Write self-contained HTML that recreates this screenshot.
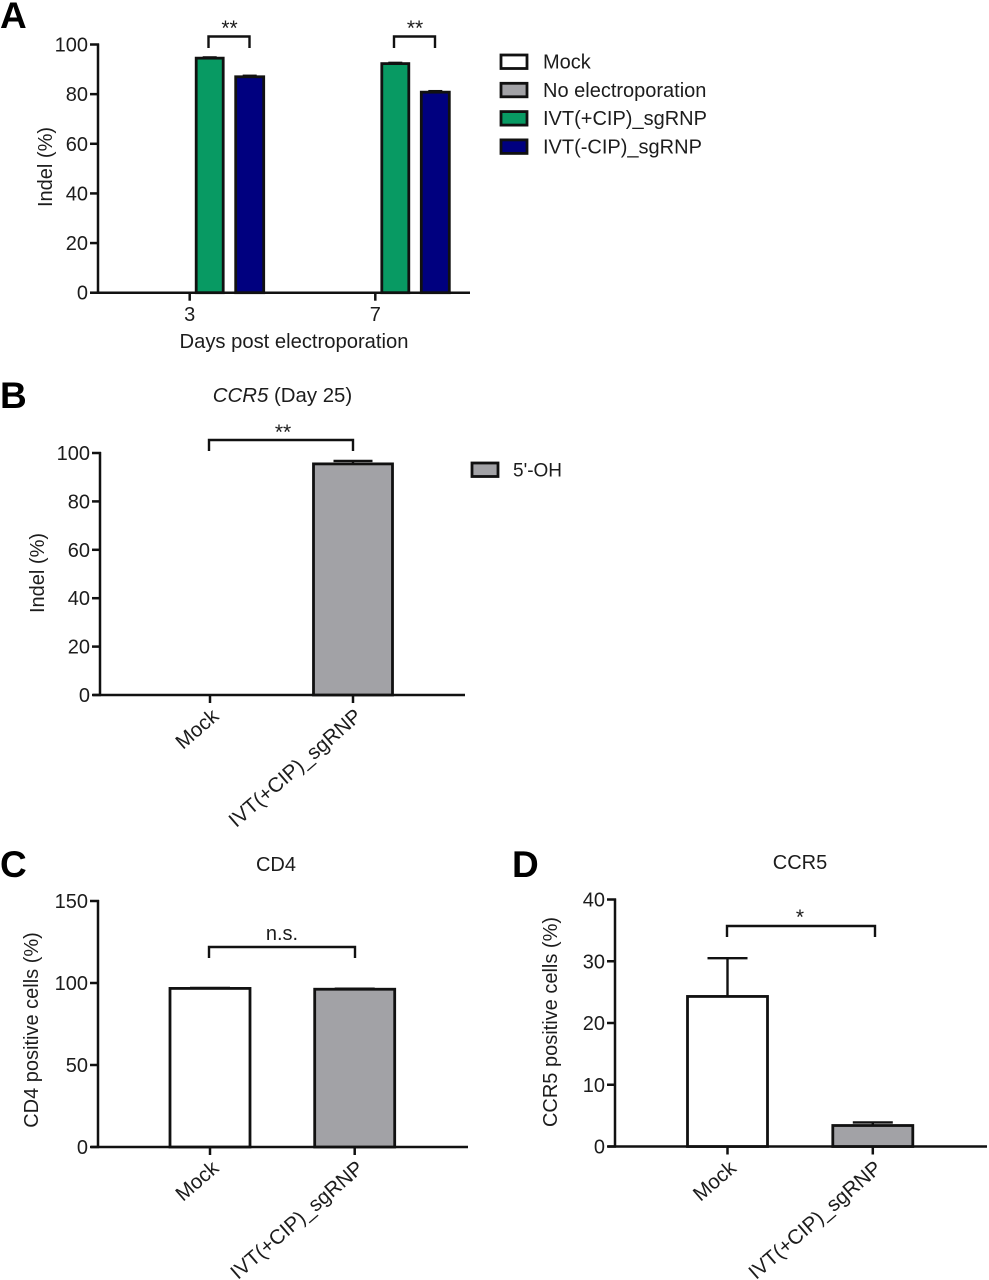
<!DOCTYPE html>
<html>
<head>
<meta charset="utf-8">
<style>
html,body{margin:0;padding:0;background:#fff;}
svg{display:block;}
text{font-family:"Liberation Sans",Arial,sans-serif;fill:#1c1c1c;}
</style>
</head>
<body>
<svg id="figure" width="989" height="1280" viewBox="0 0 989 1280" xmlns="http://www.w3.org/2000/svg">
  <g id="root" style="filter:blur(0.35px)"></g>
</svg>
<script>
// ---- Panel A data ----
const aCategories = ['3', '7'];
const aTicks = [0, 20, 40, 60, 80, 100];
const aMock = [0, 0];
const aNoElectroporation = [0, 0];
const aPlusCip = [94.5, 92.3];
const aMinusCip = [87, 80.8];
const aPlusCipErr = [0.3, 0.3];
const aMinusCipErr = [0.4, 0.4];
const aSeriesNames = ['Mock', 'No electroporation', 'IVT(+CIP)_sgRNP', 'IVT(-CIP)_sgRNP'];
// ---- Panel B data ----
const bCategories = ['Mock', 'IVT(+CIP)_sgRNP'];
const bTicks = [0, 20, 40, 60, 80, 100];
const bValues = [0, 95.5];
const bErrors = [0, 1.2];
// ---- Panel C data ----
const cCategories = ['Mock', 'IVT(+CIP)_sgRNP'];
const cTicks = [0, 50, 100, 150];
const cValues = [96.7, 96.2];
const cErrors = [0.3, 0.3];
// ---- Panel D data ----
const dCategories = ['Mock', 'IVT(+CIP)_sgRNP'];
const dTicks = [0, 10, 20, 30, 40];
const dValues = [24.3, 3.4];
const dErrors = [6.2, 0.5];

const NS = 'http://www.w3.org/2000/svg';
const root = document.getElementById('root');
const INK = '#111';
const WHITE = '#ffffff', GRAY = '#a2a2a6', GREEN = '#089a63', NAVY = '#00007f';
const AXIS_W = 2.5;

function make(tag, attrs, parent) {
  const el = document.createElementNS(NS, tag);
  for (const k in attrs) el.setAttribute(k, attrs[k]);
  (parent || root).appendChild(el);
  return el;
}
function line(x1, y1, x2, y2, w, parent) {
  return make('line', {x1: x1, y1: y1, x2: x2, y2: y2, stroke: INK, 'stroke-width': w || AXIS_W}, parent);
}
function label(str, x, y, size, anchor, parent) {
  const t = make('text', {x: x, y: y, 'font-size': size, 'text-anchor': anchor || 'middle'}, parent);
  t.textContent = str;
  return t;
}
function linearY(layout) {
  return function (v) { return layout.y0 - (v / layout.max) * (layout.y0 - layout.yTop); };
}
function drawAxes(name, layout, ticks) {
  const y = linearY(layout);
  const g = make('g', {});
  
  
  line(layout.x, layout.yTop - 1, layout.x, layout.y0 + 1, AXIS_W, g);
  ticks.forEach(function (v) {
    line(layout.x - 8, y(v), layout.x + 1, y(v), AXIS_W, g);
    const t = label(String(v), layout.x - 10, y(v) + 7, 20, 'end', g);
    
    
  });
  const gx = make('g', {});
  
  
  line(layout.xStart, layout.y0, layout.xEnd, layout.y0, AXIS_W, gx);
  return gx;
}
function drawBar(name, cx, width, value, err, fill, y, y0, capW) {
  const top = y(value);
  if (err > 0) {
    const eg = make('g', {});
    
    
    line(cx, y(value + err), cx, top, 2.4, eg);
    line(cx - capW / 2, y(value + err), cx + capW / 2, y(value + err), 2.4, eg);
  }
  const r = make('rect', {x: cx - width / 2, y: top, width: width, height: Math.max(0, y0 - top), fill: fill, stroke: INK, 'stroke-width': 2.8});
  
  
  return r;
}
function drawBracket(name, x1, x2, yTop, yBottom, str, tx, ty, size) {
  const g = make('g', {});
  
  
  make('path', {d: 'M' + x1 + ' ' + yBottom + 'V' + yTop + 'H' + x2 + 'V' + yBottom, fill: 'none', stroke: INK, 'stroke-width': 2.4}, g);
  label(str, tx, ty, size, 'middle', g);
}
function rotatedLabel(name, str, x, y) {
  const t = make('text', {x: x, y: y, 'font-size': 20.5, 'text-anchor': 'end', transform: 'rotate(-41 ' + x + ' ' + y + ')'});
  t.textContent = str;
  
  
}
function yTitle(name, str, x, y) {
  const t = make('text', {x: x, y: y, 'font-size': 20, 'text-anchor': 'middle', transform: 'rotate(-90 ' + x + ' ' + y + ')'});
  t.textContent = str;
  
  
}
function panelLetter(str, x, y) {
  const t = make('text', {x: x, y: y, 'font-size': 37, 'font-weight': 'bold'});
  t.textContent = str;
  t.style.fill = '#000';
  
  
}
function legendEntry(name, str, x, y, fill, textX, size) {
  const g = make('g', {});
  
  
  make('rect', {x: x, y: y, width: 26, height: 13.5, fill: fill, stroke: INK, 'stroke-width': 2.8}, g);
  label(str, textX, y + 13.5, size, 'start', g);
}

// ---- Panel A ----
panelLetter('A', 0, 28);
const aLayout = {x: 98, y0: 292.7, yTop: 44.5, max: 100, xStart: 90, xEnd: 470};
const aY = linearY(aLayout);
const aGroupX = function (i) { return 189.7 + i * 185.6; };
const aOffsets = [-60, -20, 20, 60];
const aBarWidth = 27;
const aX = drawAxes('panel-a', aLayout, aTicks);
aCategories.forEach(function (c, i) {
  const cx = aGroupX(i);
  line(cx, aLayout.y0, cx, aLayout.y0 + 8, AXIS_W, aX);
  const t = label(c, cx, 321, 20);
  
  
  if (aMock[i] > 0) drawBar('panel-a-bar-mock', cx + aOffsets[0], aBarWidth, aMock[i], 0, WHITE, aY, aLayout.y0, 14);
  if (aNoElectroporation[i] > 0) drawBar('panel-a-bar-no-electroporation', cx + aOffsets[1], aBarWidth, aNoElectroporation[i], 0, GRAY, aY, aLayout.y0, 14);
  drawBar('panel-a-bar-plus-cip', cx + aOffsets[2], aBarWidth, aPlusCip[i], aPlusCipErr[i], GREEN, aY, aLayout.y0, 14);
  drawBar('panel-a-bar-minus-cip', cx + aOffsets[3], aBarWidth + 1, aMinusCip[i], aMinusCipErr[i], NAVY, aY, aLayout.y0, 14);
});
drawBracket('panel-a-significance-day-3', 208.5, 249.5, 36.5, 48, '**', 229.5, 35, 21);
drawBracket('panel-a-significance-day-7', 394, 435, 36.5, 48, '**', 415, 35, 21);
yTitle('panel-a-y-axis-title', 'Indel (%)', 52, 167);
const aXTitle = label('Days post electroporation', 294, 348, 20.2);


const legendFills = [WHITE, GRAY, GREEN, NAVY];
const legendNames = ['legend-entry-mock', 'legend-entry-no-electroporation', 'legend-entry-plus-cip', 'legend-entry-minus-cip'];
aSeriesNames.forEach(function (s, i) {
  legendEntry(legendNames[i], s, 501, 55 + i * 28.3, legendFills[i], 543, 20);
});

// ---- Panel B ----
panelLetter('B', 0, 408);
const bLayout = {x: 100, y0: 695, yTop: 453, max: 100, xStart: 93, xEnd: 465};
const bY = linearY(bLayout);
const bGroupX = function (i) { return 210 + i * 143; };
const bX = drawAxes('panel-b', bLayout, bTicks);
bCategories.forEach(function (c, i) {
  const cx = bGroupX(i);
  line(cx, bLayout.y0, cx, bLayout.y0 + 8, AXIS_W, bX);
  rotatedLabel('panel-b-x-tick-label', c, cx + 10, 718);
  if (bValues[i] > 0) drawBar('panel-b-bar', cx, 79, bValues[i], bErrors[i], GRAY, bY, bLayout.y0, 39);
});
drawBracket('panel-b-significance', 209, 353, 440, 451, '**', 283, 439, 21);
yTitle('panel-b-y-axis-title', 'Indel (%)', 44, 573);
const bTitle = make('text', {x: 282.5, y: 402, 'font-size': 20.4, 'text-anchor': 'middle'});


const bTitleItalic = make('tspan', {'font-style': 'italic'}, bTitle);
bTitleItalic.textContent = 'CCR5';
const bTitleRest = make('tspan', {}, bTitle);
bTitleRest.textContent = ' (Day 25)';
legendEntry('legend-entry-5-oh', "5'-OH", 472, 463, GRAY, 513, 19);

// ---- Panel C ----
panelLetter('C', 0, 877);
const cLayout = {x: 98, y0: 1147, yTop: 901, max: 150, xStart: 91, xEnd: 468};
const cY = linearY(cLayout);
const cGroupX = function (i) { return 210 + i * 144.7; };
const cX = drawAxes('panel-c', cLayout, cTicks);
cCategories.forEach(function (c, i) {
  const cx = cGroupX(i);
  line(cx, cLayout.y0, cx, cLayout.y0 + 8, AXIS_W, cX);
  rotatedLabel('panel-c-x-tick-label', c, cx + 10, 1170);
  drawBar('panel-c-bar', cx, 80, cValues[i], cErrors[i], i === 0 ? WHITE : GRAY, cY, cLayout.y0, 40);
});
drawBracket('panel-c-significance', 209, 355, 947, 958, 'n.s.', 282, 940, 20);
yTitle('panel-c-y-axis-title', 'CD4 positive cells (%)', 38, 1030);
const cTitle = label('CD4', 276, 871, 20);



// ---- Panel D ----
panelLetter('D', 512, 877);
const dLayout = {x: 615, y0: 1146.5, yTop: 899.5, max: 40, xStart: 608, xEnd: 987};
const dY = linearY(dLayout);
const dGroupX = function (i) { return 727.5 + i * 145.3; };
const dX = drawAxes('panel-d', dLayout, dTicks);
dCategories.forEach(function (c, i) {
  const cx = dGroupX(i);
  line(cx, dLayout.y0, cx, dLayout.y0 + 8, AXIS_W, dX);
  rotatedLabel('panel-d-x-tick-label', c, cx + 10, 1170);
  drawBar('panel-d-bar', cx, 80, dValues[i], dErrors[i], i === 0 ? WHITE : GRAY, dY, dLayout.y0, 40);
});
drawBracket('panel-d-significance', 727, 875, 926, 937, '*', 800, 924, 21);
yTitle('panel-d-y-axis-title', 'CCR5 positive cells (%)', 557, 1022);
const dTitle = label('CCR5', 800, 869, 20);


</script>
</body>
</html>
